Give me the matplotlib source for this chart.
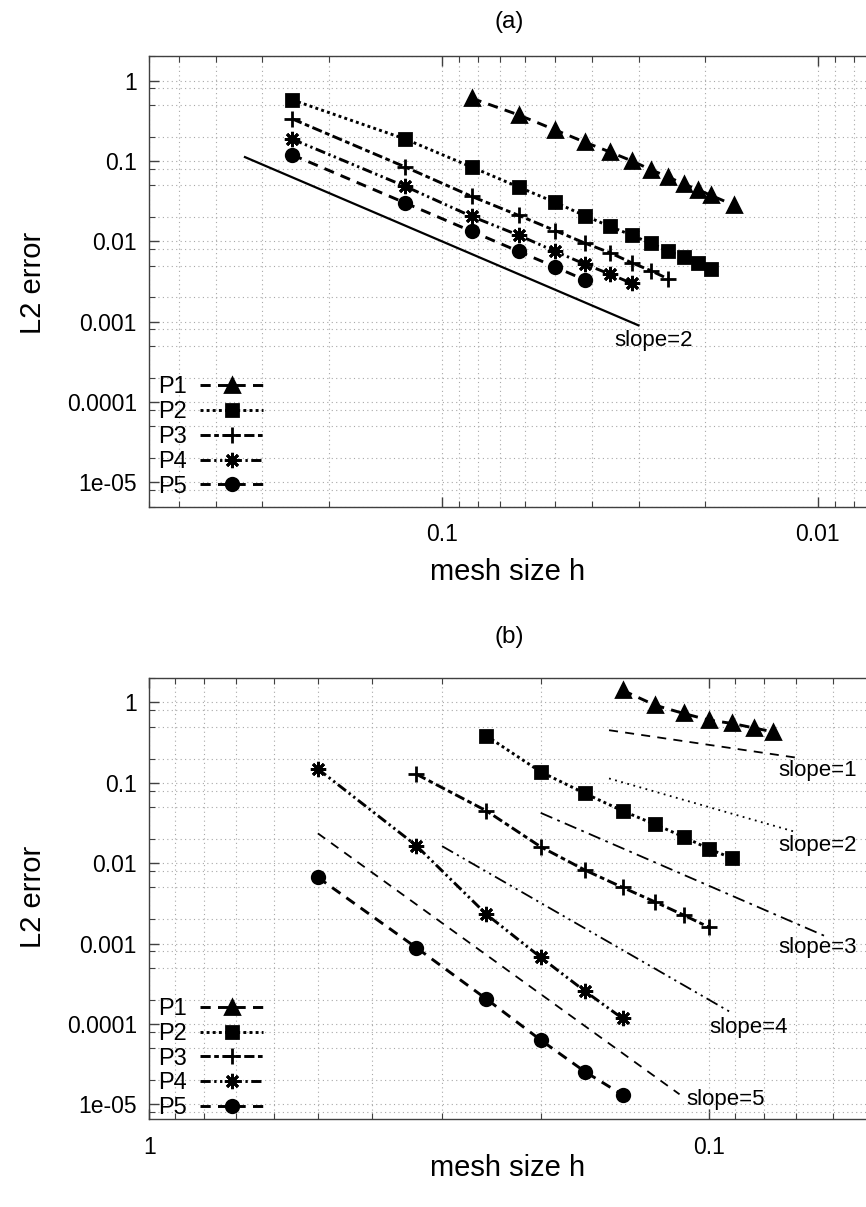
import numpy as np
import matplotlib
matplotlib.use("Agg")
import matplotlib.pyplot as plt
from matplotlib.ticker import LogLocator, FuncFormatter, NullFormatter

plt.rcParams['font.family'] = ['Liberation Sans', 'DejaVu Sans']

# ---- panel (a): mesh counts N (h = 1/N) and L2 errors
labels = ["P1", "P2", "P3", "P4", "P5"]
n_a_p1 = [12, 16, 20, 24, 28, 32, 36, 40, 44, 48, 52, 60]
e_a_p1 = [0.602, 0.373, 0.243, 0.171, 0.129, 0.100, 0.0776, 0.063, 0.0515, 0.0438, 0.0372, 0.028]
n_a_p2 = [4, 8, 12, 16, 20, 24, 28, 32, 36, 40, 44, 48, 52]
e_a_p2 = [0.574, 0.1865, 0.0838, 0.0473, 0.0305, 0.0208, 0.0153, 0.0119, 0.0094, 0.0076, 0.0063, 0.0053, 0.0045]
n_a_p3 = [4, 8, 12, 16, 20, 24, 28, 32, 36, 40]
e_a_p3 = [0.333, 0.0838, 0.0362, 0.021, 0.0136, 0.0095, 0.0072, 0.0054, 0.0043, 0.0034]
n_a_p4 = [4, 8, 12, 16, 20, 24, 28, 32]
e_a_p4 = [0.1865, 0.0481, 0.0204, 0.0119, 0.0075, 0.0052, 0.0039, 0.0030]
n_a_p5 = [4, 8, 12, 16, 20, 24]
e_a_p5 = [0.119, 0.0299, 0.0133, 0.0075, 0.0048, 0.0033]
# reference line slope=2, endpoints (h, err)
ref_a_h = [0.334, 0.03]
ref_a_e = [0.1115, 0.0009]

# ---- panel (b)
n_b_p1 = [7, 8, 9, 10, 11, 12, 13]
e_b_p1 = [1.42, 0.926, 0.73, 0.603, 0.548, 0.483, 0.431]
n_b_p2 = [4, 5, 6, 7, 8, 9, 10, 11]
e_b_p2 = [0.384, 0.137, 0.0738, 0.0448, 0.0304, 0.0213, 0.0150, 0.0115]
n_b_p3 = [3, 4, 5, 6, 7, 8, 9, 10]
e_b_p3 = [0.128, 0.0448, 0.016, 0.0082, 0.0050, 0.0033, 0.00226, 0.00159]
n_b_p4 = [2, 3, 4, 5, 6, 7]
e_b_p4 = [0.149, 0.0165, 0.00231, 0.000674, 0.000255, 0.000117]
n_b_p5 = [2, 3, 4, 5, 6, 7]
e_b_p5 = [0.00666, 0.000887, 0.000204, 6.3e-5, 2.54e-5, 1.31e-5]
# reference lines: slope order, start/end h and err
ref_b_order = [1, 2, 3, 4, 5]
ref_b_h0 = [0.151, 0.151, 0.2, 0.3, 0.5]
ref_b_h1 = [0.0703, 0.0703, 0.0613, 0.0908, 0.113]
ref_b_e0 = [0.452, 0.1134, 0.0423, 0.0163, 0.0235]
ref_b_e1 = [0.207, 0.0246, 0.00119, 0.000135, 1.33e-5]

# styles (gnuplot-like)
markers = ['^', 's', '+', (8, 2, 0), 'o']
msizes = [9.5, 9, 11, 11, 9]
dashes = [(0, (3.5, 2.5)), (0, (1, 1.1)), (0, (3.5, 1.2, 1.6, 1.2)),
          (0, (3.5, 1.2, 0.8, 1.2, 0.8, 1.2)), (0, (3.5, 2.5))]
ref_dashes = [(0, (5, 4)), (0, (1, 2.5)), (0, (7, 3, 1.5, 3)),
              (0, (7, 2.5, 1.2, 2.5, 1.2, 2.5)), (0, (5, 4))]

W, H = 866, 1207
fig = plt.figure(figsize=(W / 100, H / 100), dpi=100)
ax_a = fig.add_axes([149.3 / W, 1 - 506.7 / H, 781.8 / W, 450.4 / H])
ax_b = fig.add_axes([149.3 / W, 1 - 1119.3 / H, 782.8 / W, 441.0 / H])


def style_axes(ax, xlim, ylim):
    ax.set_xscale('log')
    ax.set_yscale('log')
    ax.set_xlim(*xlim)
    ax.set_ylim(*ylim)
    ax.xaxis.set_major_locator(LogLocator(base=10, subs=(1.0,)))
    ax.xaxis.set_minor_locator(LogLocator(base=10, subs=np.arange(2, 10)))
    ax.yaxis.set_major_locator(LogLocator(base=10, subs=(1.0,)))
    ax.yaxis.set_minor_locator(LogLocator(base=10, subs=(2, 5, 8)))
    fmt = FuncFormatter(lambda v, p: '%g' % v)
    ax.xaxis.set_major_formatter(fmt)
    ax.yaxis.set_major_formatter(fmt)
    ax.xaxis.set_minor_formatter(NullFormatter())
    ax.yaxis.set_minor_formatter(NullFormatter())
    ax.tick_params(which='both', direction='in', top=True, right=True,
                   color='#404040', labelsize=16.5)
    ax.tick_params(which='major', length=7, width=1)
    ax.tick_params(which='minor', length=4.5, width=0.8)
    ax.tick_params(axis='x', pad=12)
    ax.tick_params(axis='y', pad=9)
    ax.grid(True, which='both', ls=(0, (1, 3)), color='#a8a8a8', lw=0.8)
    ax.set_axisbelow(True)
    for s in ax.spines.values():
        s.set_color('#404040')
        s.set_linewidth(1.0)


style_axes(ax_a, (0.6, 0.005), (5e-6, 2))
style_axes(ax_b, (1, 0.04), (6.5e-6, 2))

# panel (a)
series_a = [(n_a_p1, e_a_p1), (n_a_p2, e_a_p2), (n_a_p3, e_a_p3), (n_a_p4, e_a_p4), (n_a_p5, e_a_p5)]
for i, (n, e) in enumerate(series_a):
    ax_a.plot(1.0 / np.array(n), e, color='black', lw=2.1, ls=dashes[i],
              marker=markers[i], ms=msizes[i], mew=2, label=labels[i])
ax_a.plot(ref_a_h, ref_a_e, color='black', lw=1.6)
ax_a.text(0.0348, 0.000577, 'slope=2', fontsize=16, ha='left', va='center')

# panel (b)
series_b = [(n_b_p1, e_b_p1), (n_b_p2, e_b_p2), (n_b_p3, e_b_p3), (n_b_p4, e_b_p4), (n_b_p5, e_b_p5)]
for i, (n, e) in enumerate(series_b):
    ax_b.plot(1.0 / np.array(n), e, color='black', lw=2.1, ls=dashes[i],
              marker=markers[i], ms=msizes[i], mew=2, label=labels[i])
for i in range(len(ref_b_order)):
    ax_b.plot([ref_b_h0[i], ref_b_h1[i]], [ref_b_e0[i], ref_b_e1[i]],
              color='black', lw=1.3, ls=ref_dashes[i])
slope_txt_x = [0.0754, 0.0754, 0.0754, 0.1, 0.11]
slope_txt_y = [0.144, 0.0166, 0.00089, 8.9e-5, 1.16e-5]
for i, k in enumerate(ref_b_order):
    ax_b.text(slope_txt_x[i], slope_txt_y[i], 'slope=%d' % k, fontsize=16,
              ha='left', va='center')

for ax, by in [(ax_a, 0.02), (ax_b, 0.0)]:
    ax.legend(loc='lower left', bbox_to_anchor=(0.011, by), markerfirst=False,
              frameon=False, fontsize=17, handlelength=2.7, handletextpad=0.55,
              labelspacing=0.12, borderpad=0, borderaxespad=0, numpoints=1)

# titles and axis labels (centred like the original canvas)
fig.text(509 / W, 1 - 22 / H, '(a)', ha='center', va='center', fontsize=17.5)
fig.text(509 / W, 1 - 637 / H, '(b)', ha='center', va='center', fontsize=17.5)
fig.text(508 / W, 1 - 572 / H, 'mesh size h', ha='center', va='center', fontsize=21)
fig.text(508 / W, 1 - 1168 / H, 'mesh size h', ha='center', va='center', fontsize=21)
fig.text(33 / W, 1 - 283 / H, 'L2 error', ha='center', va='center', fontsize=21, rotation=90)
fig.text(33 / W, 1 - 897 / H, 'L2 error', ha='center', va='center', fontsize=21, rotation=90)

fig.savefig('out.png', dpi=100)
